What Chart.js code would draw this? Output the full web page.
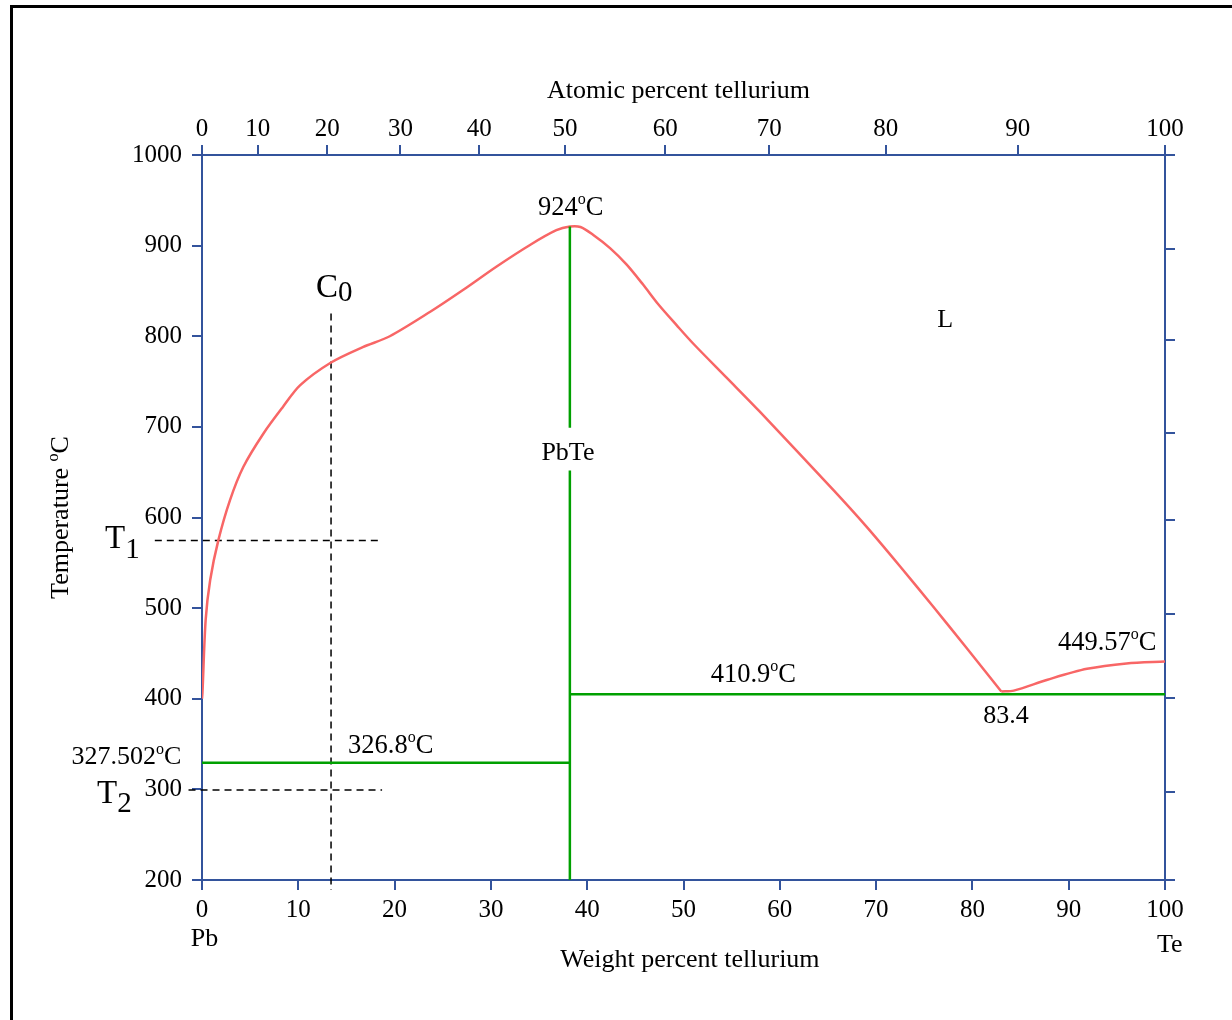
<!DOCTYPE html>
<html>
<head>
<meta charset="utf-8">
<script src="https://cdn.jsdelivr.net/npm/chart.js@4.4.1/dist/chart.umd.min.js"></script>
<style>
html,body{margin:0;padding:0;background:#fff;}
#wrap{position:relative;width:1232px;height:1020px;overflow:hidden;}
#frame{position:absolute;left:10px;top:5px;width:1400px;height:1200px;border-left:3px solid #000;border-top:3px solid #000;box-sizing:border-box;}
canvas{position:absolute;left:0;top:0;}
</style>
</head>
<body>
<div id="wrap"><div id="frame"></div><canvas id="c" width="1232" height="1020"></canvas></div>
<script>
// ---------- data ----------
// Liquidus, Pb side up to the PbTe maximum and down to the eutectic (weight % Te, deg C)
const liquidusLeftWt = [0, 0.05, 0.38, 0.85, 1.7, 2.9, 4.3, 6.4, 8.4, 10.2, 13.4, 16.7, 19.5, 23.7, 27.1, 30.6, 34.1, 36.8, 38.2, 39.3, 40.6, 42.4, 44.1, 45.8, 47.4, 49.3, 51.0, 54.5, 57.9, 65.6, 69.0, 72.5, 75.9, 79.4, 83.0];
const liquidusLeftT  = [400, 407, 487, 531, 575, 619, 656, 693, 722, 746, 771, 788, 800, 827, 851, 877, 901, 917, 921, 920.5, 912, 897, 879, 857, 835, 812, 792, 754, 717, 630, 590, 546, 502, 456, 408];
// Liquidus, Te side from the eutectic to pure Te
const liquidusRightWt = [83.0, 84.3, 87.8, 91.9, 96.0, 100];
const liquidusRightT  = [408, 409, 421, 433, 439, 441];

// PbTe compound line (gap where the label sits)
const pbteWt = [38.2, 38.2, 38.2, 38.2, 38.2];
const pbteT  = [921, 699, null, 652, 200];

// Eutectic isotherms
const eutPbWt = [0, 38.2];
const eutPbT  = [329.5, 329.5];
const eutTeWt = [38.2, 100];
const eutTeT  = [405, 405];

// Dashed guide lines: C0 composition, T1 and T2 temperatures
const c0Wt = [13.4, 13.4];
const c0T  = [825, 189];
const t1Wt = [-4.9, 18.7];
const t1T  = [574.5, 574.5];
const t2Wt = [-1.4, 18.7];
const t2T  = [299.4, 299.4];

// Tick labels
const weightTickLabels = ['0','10','20','30','40','50','60','70','80','90','100'];
const tempTickLabels = ['200','300','400','500','600','700','800','900','1000'];
const atomicTickLabels = ['0','10','20','30','40','50','60','70','80','90','100'];
const atomicTickWt = [0, 5.8, 13.0, 20.6, 28.8, 37.7, 48.1, 58.9, 71.0, 84.7, 100];
const rightTickT = [1000, 896, 796, 693, 597, 494, 401, 297, 200];

// ---------- helpers ----------
const FONT = '"Liberation Serif", "Times New Roman", serif';
const BLUE = '#33539c';
const RED = '#f86666';
const GREEN = '#00a000';
const pts = (xs, ys) => xs.map((x, i) => ({x: x, y: ys[i]}));

function drawRich(ctx, parts, x, y, align) {
  let w = 0;
  const m = parts.map(p => {
    ctx.font = p[1] + 'px ' + FONT;
    const pw = ctx.measureText(p[0]).width;
    w += pw;
    return pw;
  });
  let cx = align === 'center' ? x - w / 2 : (align === 'right' ? x - w : x);
  parts.forEach((p, i) => {
    ctx.font = p[1] + 'px ' + FONT;
    ctx.fillText(p[0], cx, y + (p[2] || 0));
    cx += m[i];
  });
}

// annotations anchored in data coordinates (weight %, deg C), baseline anchored
const notes = [
  {parts: [['Atomic percent tellurium',26,0]], wt: 49.48, t: 1062.6, align: 'center'},
  {parts: [['Weight percent tellurium',26,0]], wt: 50.67, t: 104.4, align: 'center'},
  {parts: [['924',26.5,0],['o',16,-10.5],['C',26.5,0]], wt: 38.3, t: 933.8, align: 'center'},
  {parts: [['PbTe',26,0]], wt: 38.0, t: 663.4, align: 'center'},
  {parts: [['L',26,0]], wt: 77.17, t: 810.5, align: 'center'},
  {parts: [['410.9',26.5,0],['o',16,-10.5],['C',26.5,0]], wt: 57.25, t: 418.8, align: 'center'},
  {parts: [['83.4',26,0]], wt: 83.5, t: 373.6, align: 'center'},
  {parts: [['449.57',26.5,0],['o',16,-10.5],['C',26.5,0]], wt: 94.0, t: 453.8, align: 'center'},
  {parts: [['326.8',26.5,0],['o',16,-10.5],['C',26.5,0]], wt: 19.6, t: 340.6, align: 'center'},
  {parts: [['327.502',26,0],['o',16,-10.5],['C',26,0]], wt: -2.14, t: 327.6, align: 'right'},
  {parts: [['Pb',26,0]], wt: 0.26, t: 127.2, align: 'center'},
  {parts: [['Te',26,0]], wt: 100.5, t: 120.9, align: 'center'},
  {parts: [['C',33,0],['0',29,4]], wt: 11.84, t: 843.3, align: 'left'},
  {parts: [['T',33,0],['1',29,10]], wt: -10.07, t: 566.3, align: 'left'},
  {parts: [['T',33,0],['2',29,9]], wt: -10.9, t: 284.6, align: 'left'}
];

const notePlugin = {
  id: 'notes',
  afterDraw(chart) {
    const ctx = chart.ctx;
    const xs = chart.scales.x, ys = chart.scales.y;
    ctx.save();
    ctx.fillStyle = '#000';
    ctx.textBaseline = 'alphabetic';
    notes.forEach(n => {
      drawRich(ctx, n.parts, xs.getPixelForValue(n.wt), ys.getPixelForValue(n.t), n.align);
    });
    // y axis title with superscript o
    const a = chart.chartArea;
    ctx.translate(a.left - 134, (a.top + a.bottom) / 2);
    ctx.rotate(-Math.PI / 2);
    drawRich(ctx, [['Temperature ',26,0],['o',16,-10.5],['C',26,0]], 0, 0, 'center');
    ctx.restore();
  }
};

const axisGrid = {drawOnChartArea: false, drawTicks: true, tickLength: 10, color: BLUE, lineWidth: 2};
const axisBorder = {display: true, color: BLUE, width: 2};

Chart.defaults.font.family = FONT;
Chart.defaults.font.size = 25;
Chart.defaults.color = '#000';

new Chart(document.getElementById('c'), {
  type: 'scatter',
  data: {
    datasets: [
      {data: pts(eutPbWt, eutPbT), showLine: true, borderColor: GREEN, borderWidth: 2.5, pointRadius: 0},
      {data: pts(eutTeWt, eutTeT), showLine: true, borderColor: GREEN, borderWidth: 2.5, pointRadius: 0},
      {data: pts(pbteWt, pbteT), showLine: true, spanGaps: false, borderColor: GREEN, borderWidth: 2.5, pointRadius: 0},
      {data: pts(liquidusLeftWt, liquidusLeftT), showLine: true, borderColor: RED, borderWidth: 2.5, pointRadius: 0, tension: 0.3},
      {data: pts(liquidusRightWt, liquidusRightT), showLine: true, borderColor: RED, borderWidth: 2.5, pointRadius: 0, tension: 0.3},
      {data: pts(c0Wt, c0T), showLine: true, borderColor: '#000', borderWidth: 1.5, borderDash: [7,5], pointRadius: 0, clip: false},
      {data: pts(t1Wt, t1T), showLine: true, borderColor: '#000', borderWidth: 1.5, borderDash: [7,5], pointRadius: 0, clip: false},
      {data: pts(t2Wt, t2T), showLine: true, borderColor: '#000', borderWidth: 1.5, borderDash: [7,5], pointRadius: 0, clip: false}
    ]
  },
  options: {
    responsive: false,
    animation: false,
    devicePixelRatio: 1,
    layout: {padding: 0},
    plugins: {legend: {display: false}, tooltip: {enabled: false}},
    scales: {
      x: {
        type: 'linear', position: 'bottom', min: 0, max: 100, z: 1,
        afterBuildTicks: s => { s.ticks = weightTickLabels.map(v => ({value: Number(v)})); },
        ticks: {autoSkip: false, maxRotation: 0, padding: 5, callback: (v, i) => weightTickLabels[i]},
        grid: axisGrid, border: axisBorder,
        afterFit: s => { s.height = 140; }
      },
      x2: {
        type: 'linear', position: 'top', min: 0, max: 100, z: 1,
        afterBuildTicks: s => { s.ticks = atomicTickWt.map(v => ({value: v})); },
        ticks: {autoSkip: false, maxRotation: 0, padding: 1, callback: (v, i) => atomicTickLabels[i]},
        grid: axisGrid, border: axisBorder,
        afterFit: s => { s.height = 155; }
      },
      y: {
        type: 'linear', position: 'left', min: 200, max: 1000, z: 1,
        afterBuildTicks: s => { s.ticks = tempTickLabels.map(v => ({value: Number(v)})); },
        ticks: {autoSkip: false, padding: 10, callback: (v, i) => tempTickLabels[i]},
        grid: axisGrid, border: axisBorder,
        afterFit: s => { s.width = 202; }
      },
      y2: {
        type: 'linear', position: 'right', min: 200, max: 1000, z: 1,
        afterBuildTicks: s => { s.ticks = rightTickT.map(v => ({value: v})); },
        ticks: {autoSkip: false, callback: () => ''},
        grid: axisGrid, border: axisBorder,
        afterFit: s => { s.width = 67; }
      }
    }
  },
  plugins: [notePlugin]
});
</script>
</body>
</html>
